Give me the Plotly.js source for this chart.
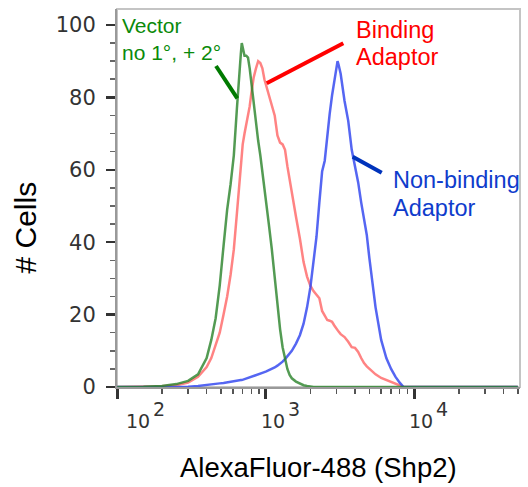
<!DOCTYPE html>
<html><head><meta charset="utf-8">
<script src="https://cdn.plot.ly/plotly-3.0.1.min.js"></script>
<style>html,body{margin:0;padding:0;background:#fff}#chart{width:528px;height:487px}</style>
</head><body><div id="chart"></div>
<script>
// Fluorescence bins (AlexaFluor-488 intensity)
const fluorescence = [100,120,150,200,250,300,350,400,430,460,490,520,550,580,610,640,660,680,690,700,720,740,760,780,800,830,860,890,920,950,980,1010,1050,1100,1150,1200,1250,1300,1350,1400,1450,1500,1600,1700,1800,1900,2000,2100,2200,2300,2400,2500,2600,2700,2800,2900,3000,3050,3100,3200,3400,3600,3800,4000,4200,4400,4600,4800,5000,5500,6000,6500,7000,7500,8000,8500,9000,10000,20000,50000];
// # Cells (% of max) per series
const vectorCells = [0,0,0.1,0.3,0.8,1.7,3.5,8,13,19,28,39,49,56,64,77,86,92,95,94,91.5,91.5,91,88,84,79,73,68,64,59,54,50,45,38,30,22,16,11,7.5,5,3.3,2.4,1.5,0.9,0.5,0.3,0.1,0,0,0,0,0,0,0,0,0,0,0,0,0,0,0,0,0,0,0,0,0,0,0,0,0,0,0,0,0,0,0,0,0];
const bindingCells = [0,0,0.1,0.2,0.5,1.2,2.8,5.5,8,11.5,15,20,25,31,38,48,54,62,64.5,67,70,72.5,75,77.5,81,85.5,88,90,89.5,88,85,83,80.5,78,75,69.5,67.5,67,65.5,61,57,54,47,41,34.5,30.5,28,26.5,25.5,24.5,21,19.5,18.5,18.3,18,17,16,15.7,15.3,14.6,13.8,12.5,11,10.8,9.7,8,6.6,5.7,5,3.5,2.5,1.9,1.3,0.8,0.3,0,0,0,0,0];
const nonBindingCells = [0,0,0,0,0,0.1,0.3,0.5,0.6,0.8,1,1.1,1.3,1.4,1.5,1.7,1.8,1.9,1.9,2,2.1,2.3,2.4,2.6,2.8,3.1,3.4,3.6,3.8,3.9,4.1,4.3,4.6,5,5.4,5.9,6.4,7,7.7,8.5,9.2,10,12,14.3,17.5,22,27.5,34,41.5,51,59.5,62.5,70,75.5,80.5,85,88.5,90,89,86.5,79,73.5,65.5,61,56.5,51,46,42,35.5,22,13,8,5,2.8,1.2,0,0,0,0,0];

// Axis ticks and labels
const xTickVals = [100, 1000, 10000];
const xTickBase = ['10', '10', '10'];
const xTickExp = ['2', '3', '4'];
const xMinorVals = [200,300,400,500,600,700,800,900,2000,3000,4000,5000,6000,7000,8000,9000,20000,30000,40000,50000];
const yTickVals = [0,20,40,60,80,100];

const traces = [
  {x: fluorescence, y: bindingCells, mode: 'lines', line: {color: 'rgba(255,90,90,0.75)', width: 2.5}, name: 'Binding Adaptor'},
  {x: fluorescence, y: nonBindingCells, mode: 'lines', line: {color: 'rgba(55,75,240,0.85)', width: 2.5}, name: 'Non-binding Adaptor'},
  {x: fluorescence, y: vectorCells, mode: 'lines', line: {color: 'rgba(40,130,40,0.8)', width: 2.5}, name: 'Vector'}
];

function px(p){return (p-117)/403;}
function py(p){return (387-p)/378;}

const tickFont = {family: 'DejaVu Sans', size: 19, color: '#333'};
const labelShift = [21, 7, 7];
const tickLabelAnns = [];
xTickVals.forEach(function(v, i){
  tickLabelAnns.push({text: xTickBase[i], xref: 'x', yref: 'paper', x: Math.log10(v), y: py(421.5), xshift: labelShift[i], xanchor: 'center', yanchor: 'middle', showarrow: false, font: tickFont});
  tickLabelAnns.push({text: xTickExp[i], xref: 'x', yref: 'paper', x: Math.log10(v), y: py(409), xshift: labelShift[i] + 21, xanchor: 'center', yanchor: 'middle', showarrow: false, font: tickFont});
});

const layout = {
  width: 528, height: 487,
  margin: {l: 117, r: 8, t: 9, b: 100},
  paper_bgcolor: '#fff', plot_bgcolor: '#fff',
  showlegend: false,
  xaxis: {
    type: 'log', range: [1.998, 4.7138],
    showgrid: false, zeroline: false,
    showline: true, linecolor: '#999', linewidth: 2,
    tickmode: 'array', tickvals: xTickVals, showticklabels: false,
    ticks: 'outside', ticklen: 10, tickwidth: 3, tickcolor: '#333',
    minor: {tickmode: 'array', tickvals: xMinorVals, ticks: 'outside', ticklen: 5, tickwidth: 1.5, tickcolor: '#555', showgrid: false}
  },
  yaxis: {
    range: [0, 104.4],
    showgrid: false, zeroline: false,
    showline: true, linecolor: '#999', linewidth: 2,
    tickmode: 'array', tickvals: yTickVals,
    ticks: 'outside', ticklen: 9, tickwidth: 2.5, tickcolor: '#333',
    ticklabelstandoff: 6,
    tickfont: {family: 'DejaVu Sans', size: 21, color: '#333'},
    minor: {dtick: 5, ticks: 'outside', ticklen: 5, tickwidth: 1.5, tickcolor: '#666', showgrid: false}
  },
  shapes: [
    {type: 'rect', xref: 'paper', yref: 'paper', x0: 0, x1: 1, y0: 0, y1: 1, line: {color: '#c4c4c4', width: 2}, layer: 'below'},
    {type: 'line', xref: 'paper', yref: 'paper', x0: px(216), y0: py(66), x1: px(237.3), y1: py(98.3), line: {color: '#007a00', width: 4}},
    {type: 'line', xref: 'paper', yref: 'paper', x0: px(266.7), y0: py(83.3), x1: px(343.3), y1: py(43.3), line: {color: '#ff0000', width: 4}},
    {type: 'line', xref: 'paper', yref: 'paper', x0: px(352.7), y0: py(156.7), x1: px(381.7), y1: py(172.7), line: {color: '#0033bb', width: 4}}
  ],
  annotations: tickLabelAnns.concat([
    {text: '# Cells', xref: 'paper', yref: 'paper', x: px(25), y: py(227.5), xanchor: 'center', yanchor: 'middle', textangle: -90, showarrow: false, font: {family: 'Liberation Sans, Arial', size: 30, color: '#000'}},
    {text: 'AlexaFluor-488 (Shp2)', xref: 'paper', yref: 'paper', x: px(318.5), y: py(468), xanchor: 'center', yanchor: 'middle', showarrow: false, font: {family: 'Liberation Sans, Arial', size: 27.5, color: '#000'}},
    {text: 'Vector', xref: 'paper', yref: 'paper', x: px(120), y: py(33 - 0.35*21), xanchor: 'left', yanchor: 'middle', showarrow: false, font: {family: 'Liberation Sans, Arial', size: 21, color: '#0a8a0a'}},
    {text: 'no 1°, + 2°', xref: 'paper', yref: 'paper', x: px(120), y: py(60 - 0.35*21), xanchor: 'left', yanchor: 'middle', showarrow: false, font: {family: 'Liberation Sans, Arial', size: 21, color: '#0a8a0a'}},
    {text: 'Binding', xref: 'paper', yref: 'paper', x: px(354), y: py(38.3 - 0.35*23.5), xanchor: 'left', yanchor: 'middle', showarrow: false, font: {family: 'Liberation Sans, Arial', size: 23.5, color: '#ff0000'}},
    {text: 'Adaptor', xref: 'paper', yref: 'paper', x: px(354), y: py(65 - 0.35*23.5), xanchor: 'left', yanchor: 'middle', showarrow: false, font: {family: 'Liberation Sans, Arial', size: 23.5, color: '#ff0000'}},
    {text: 'Non-binding', xref: 'paper', yref: 'paper', x: px(390.5), y: py(188.3 - 0.35*23.5), xanchor: 'left', yanchor: 'middle', showarrow: false, font: {family: 'Liberation Sans, Arial', size: 23.5, color: '#0f3ccc'}},
    {text: 'Adaptor', xref: 'paper', yref: 'paper', x: px(390.5), y: py(216.7 - 0.35*23.5), xanchor: 'left', yanchor: 'middle', showarrow: false, font: {family: 'Liberation Sans, Arial', size: 23.5, color: '#0f3ccc'}}
  ])
};

Plotly.newPlot('chart', traces, layout, {displayModeBar: false, staticPlot: true});
</script>
</body></html>
